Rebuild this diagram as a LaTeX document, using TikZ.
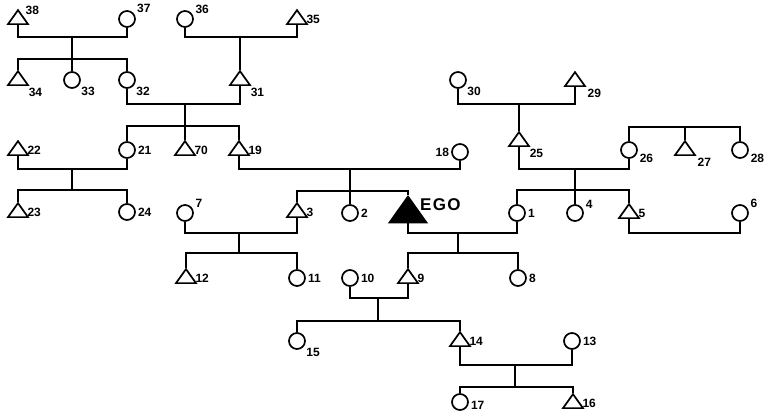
\documentclass[tikz,border=0pt]{standalone}
\usepackage{fontspec}
\setmainfont{Liberation Sans}
\newfontfamily\egofont[LetterSpace=8]{Liberation Sans}
\usetikzlibrary{shapes.geometric}
\tikzset{
  female/.style={circle, draw=black, line width=1.7pt, minimum size=16pt, inner sep=0pt},
  male/.style={isosceles triangle, isosceles triangle apex angle=72, isosceles triangle stretches, shape border rotate=90, draw=black, line width=1.7pt, minimum width=20pt, minimum height=14pt, inner sep=0pt},
  egonode/.style={male, fill=black, minimum width=37pt, minimum height=26pt},
  lab/.style={font=\bfseries\fontsize{12}{14}\selectfont, inner sep=2pt},
  egolab/.style={font=\egofont\bfseries\fontsize{17}{17}\selectfont, inner sep=0pt},
  tie/.style={line width=2pt}
}
\begin{document}
\begin{tikzpicture}[x=1pt, y=-1pt]
  \useasboundingbox (0,0) rectangle (772,417);
  \node[male, label={[lab]25:38}] (p38) at (18,19) {};
  \node[female, label={[lab]25:37}] (p37) at (127,19) {};
  \node[female, label={[lab]20:36}] (p36) at (185,19) {};
  \node[male, label={[lab]right:35}] (p35) at (297,19) {};
  \node[male, label={[lab]-35:34}] (p34) at (18,80) {};
  \node[female, label={[lab]-35:33}] (p33) at (72,80) {};
  \node[female, label={[lab]-35:32}] (p32) at (127,80) {};
  \node[male, label={[lab]-35:31}] (p31) at (240,80) {};
  \node[male, label={[lab]right:22}] (p22) at (18,150) {};
  \node[female, label={[lab]right:21}] (p21) at (127,150) {};
  \node[male, label={[lab]right:70}] (p70) at (185,150) {};
  \node[male, label={[lab]right:19}] (p19) at (239,150) {};
  \node[female, label={[lab]left:18}] (p18) at (460,152) {};
  \node[male, label={[lab]right:23}] (p23) at (18,212) {};
  \node[female, label={[lab]right:24}] (p24) at (127,212) {};
  \node[female, label={[lab]20:7}] (p7) at (185,213) {};
  \node[male, label={[lab]right:3}] (p3) at (297,212) {};
  \node[female, label={[lab]right:2}] (p2) at (350,213) {};
  \node[egonode] (ego) at (408,213) {};
  \node[egolab, anchor=west] (egotext) at (420,205) {EGO};
  \node[female, label={[lab]right:1}] (p1) at (517,213) {};
  \node[female, label={[lab]15:4}] (p4) at (575,213) {};
  \node[male, label={[lab]right:5}] (p5) at (629,213) {};
  \node[female, label={[lab]20:6}] (p6) at (740,213) {};
  \node[male, label={[lab]right:12}] (p12) at (186,278) {};
  \node[female, label={[lab]right:11}] (p11) at (297,278) {};
  \node[female, label={[lab]right:10}] (p10) at (350,278) {};
  \node[male, label={[lab]right:9}] (p9) at (408,278) {};
  \node[female, label={[lab]right:8}] (p8) at (518,278) {};
  \node[female, label={[lab]-35:15}] (p15) at (297,341) {};
  \node[male, label={[lab]right:14}] (p14) at (460,341) {};
  \node[female, label={[lab]right:13}] (p13) at (572,341) {};
  \node[female, label={[lab, yshift=-3pt]right:17}] (p17) at (460,402) {};
  \node[male, label={[lab]right:16}] (p16) at (573,403) {};
  \node[female, label={[lab]-35:30}] (p30) at (458,80) {};
  \node[male, label={[lab]-30:29}] (p29) at (575,81) {};
  \node[male, label={[lab]-35:25}] (p25) at (519,141) {};
  \node[female, label={[lab]-15:26}] (p26) at (629,150) {};
  \node[male, label={[lab]-30:27}] (p27) at (685,150) {};
  \node[female, label={[lab]-15:28}] (p28) at (740,150) {};

  \coordinate (m3837) at (72,37);
  \coordinate (s3837) at (72,59);
  \coordinate (m3635) at (240,37);
  \coordinate (m3231) at (185,104);
  \coordinate (s3231) at (185,126);
  \coordinate (m2221) at (72,169);
  \coordinate (s2221) at (72,190);
  \coordinate (m1918) at (350,169);
  \coordinate (s1918) at (350,191);
  \coordinate (m0703) at (239,233);
  \coordinate (s0703) at (239,253);
  \coordinate (mego01) at (458,233);
  \coordinate (sego01) at (458,253);
  \coordinate (m1009) at (378,298);
  \coordinate (s1009) at (378,321);
  \coordinate (m1413) at (515,365);
  \coordinate (s1413) at (515,387);
  \coordinate (m3029) at (519,104);
  \coordinate (m2526) at (575,169);
  \coordinate (s2526) at (575,190);
  \coordinate (s262728) at (685,127);
  \coordinate (m0506) at (685,233);

  \draw[tie] (p38) |- (m3837) -| (p37);
  \draw[tie] (m3837) -- (p33);
  \draw[tie] (p34) |- (s3837) -| (p32);
  \draw[tie] (p36) |- (m3635) -| (p35);
  \draw[tie] (m3635) -- (p31);
  \draw[tie] (p32) |- (m3231) -| (p31);
  \draw[tie] (m3231) -- (p70);
  \draw[tie] (p21) |- (s3231) -| (p19);
  \draw[tie] (p22) |- (m2221) -| (p21);
  \draw[tie] (m2221) -- (s2221);
  \draw[tie] (p23) |- (s2221) -| (p24);
  \draw[tie] (p19) |- (m1918) -| (p18);
  \draw[tie] (m1918) -- (p2);
  \draw[tie] (p3) |- (s1918) -| (ego);
  \draw[tie] (p7) |- (m0703) -| (p3);
  \draw[tie] (m0703) -- (s0703);
  \draw[tie] (p12) |- (s0703) -| (p11);
  \draw[tie] (ego) |- (mego01) -| (p1);
  \draw[tie] (mego01) -- (sego01);
  \draw[tie] (p9) |- (sego01) -| (p8);
  \draw[tie] (p10) |- (m1009) -| (p9);
  \draw[tie] (m1009) -- (s1009);
  \draw[tie] (p15) |- (s1009) -| (p14);
  \draw[tie] (p14) |- (m1413) -| (p13);
  \draw[tie] (m1413) -- (s1413);
  \draw[tie] (p17) |- (s1413) -| (p16);
  \draw[tie] (p30) |- (m3029) -| (p29);
  \draw[tie] (m3029) -- (p25);
  \draw[tie] (p25) |- (m2526) -| (p26);
  \draw[tie] (m2526) -- (p4);
  \draw[tie] (p1) |- (s2526) -| (p5);
  \draw[tie] (p26) |- (s262728) -| (p28);
  \draw[tie] (s262728) -- (p27);
  \draw[tie] (p5) |- (m0506) -| (p6);
\end{tikzpicture}
\end{document}
